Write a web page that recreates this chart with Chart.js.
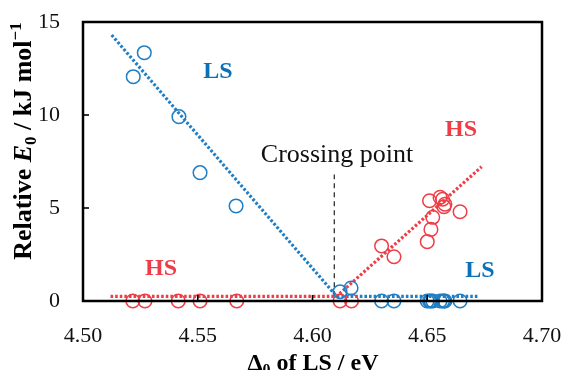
<!DOCTYPE html>
<html>
<head>
<meta charset="utf-8">
<script src="https://cdn.jsdelivr.net/npm/chart.js@4.4.1/dist/chart.umd.min.js"></script>
<style>
  html, body { margin: 0; padding: 0; background: #fff; }
  #wrap { width: 562px; height: 370px; }
</style>
</head>
<body>
<div id="wrap"><canvas id="c" width="562" height="370"></canvas></div>
<script>
// ---- data ----
const lsHighX = [4.5219, 4.5267, 4.5418, 4.5510, 4.5667, 4.6120, 4.6168];
const lsHighY = [12.06, 13.35, 9.91, 6.90, 5.11, 0.50, 0.70];
const hsZeroX = [4.5217, 4.5270, 4.5415, 4.5510, 4.5670, 4.6120, 4.6170];
const hsZeroY = [0, 0, 0, 0, 0, 0, 0];
const hsHighX = [4.6301, 4.6355, 4.6500, 4.6516, 4.6524, 4.6510, 4.6556, 4.6567, 4.6577, 4.6573, 4.6643];
const hsHighY = [2.96, 2.38, 3.19, 3.85, 4.50, 5.39, 5.57, 5.47, 5.20, 5.07, 4.80];
const lsZeroX = [4.6301, 4.6355, 4.6500, 4.6516, 4.6524, 4.6510, 4.6556, 4.6567, 4.6577, 4.6573, 4.6643];
const lsZeroY = [0, 0, 0, 0, 0, 0, 0, 0, 0, 0, 0];
const lsFitX = [4.5125, 4.6105, 4.6720];
const lsFitY = [14.3, 0.25, 0.25];
const hsFitX = [4.5120, 4.6105, 4.6737];
const hsFitY = [0.25, 0.25, 7.22];
const crossX = [4.6095, 4.6095];
const crossY = [0.25, 6.8];
const xTicks = [4.50, 4.55, 4.60, 4.65, 4.70];
const yTicks = [0, 5, 10, 15];
const labels = [
  { text: 'LS', x: 4.5588, y: 12.3, color: 'blue' },
  { text: 'HS', x: 4.6647, y: 9.2, color: 'red' },
  { text: 'HS', x: 4.5340, y: 1.75, color: 'red' },
  { text: 'LS', x: 4.6730, y: 1.65, color: 'blue' },
  { text: 'Crossing point', x: 4.6107, y: 7.85, color: 'black' }
];

const BLUE = '#1f7ec4';
const BLUE_TXT = '#0b72b9';
const RED = '#ef3d47';
const SERIF = '"Liberation Serif", "Times New Roman", serif';

const pts = (xs, ys) => xs.map((x, i) => ({ x: x, y: ys[i] }));

function circleSet(xs, ys, color) {
  return {
    type: 'scatter', data: pts(xs, ys), showLine: false,
    pointStyle: 'circle', pointRadius: 6.8, pointHoverRadius: 6.8,
    pointBorderWidth: 1.5, pointBackgroundColor: 'rgba(0,0,0,0)',
    pointBorderColor: color, borderColor: color, clip: false, order: 1
  };
}
function lineSet(xs, ys, color, width, dash, order) {
  return {
    type: 'line', data: pts(xs, ys), borderColor: color, borderWidth: width,
    borderDash: dash, pointRadius: 0, fill: false, tension: 0, clip: false,
    borderCapStyle: 'butt', order: order
  };
}

const decor = {
  id: 'decor',
  afterDatasetsDraw(chart) {
    const ctx = chart.ctx, a = chart.chartArea;
    const xs = chart.scales.x, ys = chart.scales.y;
    ctx.save();
    // frame
    ctx.strokeStyle = '#000'; ctx.lineWidth = 2.5;
    ctx.strokeRect(a.left, a.top, a.right - a.left, a.bottom - a.top);
    // inward tick marks
    ctx.lineWidth = 1.6;
    xTicks.forEach(v => {
      const p = xs.getPixelForValue(v);
      ctx.beginPath(); ctx.moveTo(p, a.bottom); ctx.lineTo(p, a.bottom - 6); ctx.stroke();
    });
    yTicks.forEach(v => {
      const p = ys.getPixelForValue(v);
      ctx.beginPath(); ctx.moveTo(a.left, p); ctx.lineTo(a.left + 6, p); ctx.stroke();
    });
    // in-plot labels
    ctx.textAlign = 'center'; ctx.textBaseline = 'middle';
    labels.forEach(l => {
      if (l.color === 'black') { ctx.fillStyle = '#111'; ctx.font = '26px ' + SERIF; }
      else { ctx.fillStyle = l.color === 'blue' ? BLUE_TXT : RED; ctx.font = 'bold 24px ' + SERIF; }
      ctx.fillText(l.text, xs.getPixelForValue(l.x), ys.getPixelForValue(l.y));
    });
    // axis titles (rich text)
    function rich(segs, cx, cy) {
      let w = 0;
      segs.forEach(s => { ctx.font = s.font; s.w = ctx.measureText(s.t).width; w += s.w; });
      let x = cx - w / 2;
      ctx.textAlign = 'left'; ctx.textBaseline = 'alphabetic'; ctx.fillStyle = '#000';
      segs.forEach(s => { ctx.font = s.font; ctx.fillText(s.t, x, cy + (s.dy || 0)); x += s.w; });
    }
    const B = 'bold 26px ' + SERIF, BS = 'bold 17px ' + SERIF;
    ctx.save();
    ctx.translate(31, 141);
    ctx.rotate(-Math.PI / 2);
    rich([
      { t: 'Relative ', font: B },
      { t: 'E', font: 'italic bold 26px ' + SERIF },
      { t: '0', font: BS, dy: 5 },
      { t: ' / kJ mol', font: B },
      { t: '\u2212', font: BS, dy: -10 },
      { t: '1', font: BS, dy: -10 }
    ], 0, 0);
    ctx.restore();
    const XB = 'bold 24px ' + SERIF, XBS = 'bold 16px ' + SERIF;
    rich([
      { t: '\u0394', font: XB },
      { t: '0', font: XBS, dy: 5 },
      { t: ' of LS / eV', font: XB }
    ], 313, 370);
    ctx.restore();
  }
};

new Chart(document.getElementById('c'), {
  data: {
    datasets: [
      lineSet(lsFitX, lsFitY, BLUE, 3.2, [2.6, 2.0], 2),
      lineSet(hsFitX, hsFitY, RED, 3.2, [2.6, 2.0], 2),
      lineSet(crossX, crossY, '#333', 1.3, [5, 4], 3),
      circleSet(lsHighX, lsHighY, BLUE),
      circleSet(lsZeroX, lsZeroY, BLUE),
      circleSet(hsZeroX, hsZeroY, RED),
      circleSet(hsHighX, hsHighY, RED)
    ]
  },
  options: {
    responsive: false, animation: false, devicePixelRatio: 1,
    layout: { padding: { top: 22, right: 20, left: 0, bottom: 0 } },
    plugins: { legend: { display: false }, tooltip: { enabled: false } },
    scales: {
      x: {
        type: 'linear', min: 4.5, max: 4.7,
        afterFit(s) { s.height = 69; s.paddingLeft = 0; s.paddingRight = 0; },
        afterBuildTicks(s) { s.ticks = xTicks.map(v => ({ value: v })); },
        grid: { display: false }, border: { display: false },
        ticks: { color: '#111', font: { family: SERIF, size: 22 }, padding: 14, maxRotation: 0,
                 callback: v => Number(v).toFixed(2) }
      },
      y: {
        type: 'linear', min: 0, max: 15,
        afterFit(s) { s.width = 83; s.paddingTop = 0; s.paddingBottom = 0; },
        afterBuildTicks(s) { s.ticks = yTicks.map(v => ({ value: v })); },
        grid: { display: false }, border: { display: false },
        ticks: { color: '#111', font: { family: SERIF, size: 22 }, padding: 15 }
      }
    }
  },
  plugins: [decor]
});
</script>
</body>
</html>
